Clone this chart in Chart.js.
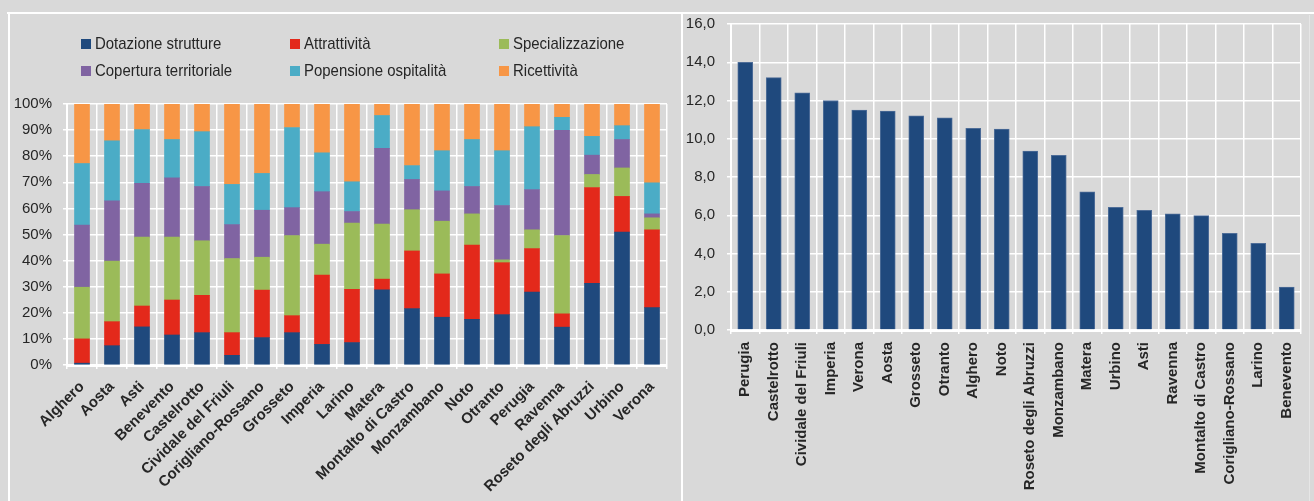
<!DOCTYPE html>
<html>
<head>
<meta charset="utf-8">
<script src="https://cdn.jsdelivr.net/npm/chart.js@4.4.1/dist/chart.umd.min.js"></script>
<style>
  html, body { margin: 0; padding: 0; }
  body { width: 1314px; height: 501px; background: #d9d9d9; position: relative; overflow: hidden;
         font-family: "Liberation Sans", Arial, sans-serif; }
  .rule { position: absolute; background: #ffffff; }
  canvas { position: absolute; top: 0; }
  #legend { position: absolute; left: 0; top: 0; }
  .item { position: absolute; font-size: 17px; color: #262626; white-space: nowrap; line-height: 20px; }
  .box { position: absolute; width: 10px; height: 10px; left: 0; top: 5px; }
  .item span { position: absolute; left: 14px; top: 0; transform: scaleX(0.88); transform-origin: 0 50%; }
</style>
</head>
<body>
<div class="rule" style="left:7px; top:12px; width:1307px; height:2px;"></div>
<div class="rule" style="left:8px; top:13px; width:2px; height:488px;"></div>
<div class="rule" style="left:681px; top:13px; width:2px; height:488px;"></div>
<div class="rule" style="left:1309px; top:15px; width:1px; height:486px; background:#e6e6e6;"></div>

<canvas id="mix" width="676" height="501" style="left:0; width:676px; height:501px;"></canvas>
<canvas id="rank" width="630" height="501" style="left:684px; width:630px; height:501px;"></canvas>
<div id="legend"></div>

<script>
// Composition of the index by municipality (percent shares)
const cities = ["Alghero", "Aosta", "Asti", "Benevento", "Castelrotto", "Cividale del Friuli",
  "Corigliano-Rossano", "Grosseto", "Imperia", "Larino", "Matera", "Montalto di Castro",
  "Monzambano", "Noto", "Otranto", "Perugia", "Ravenna", "Roseto degli Abruzzi", "Urbino", "Verona"];

const dotazioneStrutture    = [0.7, 7.4, 14.6, 11.5, 12.4, 3.7, 10.5, 12.4, 7.9, 8.6, 28.8, 21.6, 18.3, 17.5, 19.3, 27.9, 14.5, 31.3, 50.9, 22.0];
const attrattivita          = [9.3, 9.2, 8.0, 13.4, 14.3, 8.7, 18.2, 6.5, 26.6, 20.4, 4.1, 22.1, 16.6, 28.4, 19.9, 16.7, 5.1, 36.7, 13.7, 29.8];
const specializzazione      = [19.8, 23.2, 26.4, 24.1, 20.9, 28.4, 12.6, 30.7, 11.8, 25.4, 21.1, 15.8, 20.2, 12.0, 1.1, 7.2, 30.0, 5.0, 10.9, 4.6];
const coperturaTerritoriale = [23.8, 23.1, 20.6, 22.7, 20.8, 13.0, 18.0, 10.7, 20.1, 4.4, 29.0, 11.6, 11.6, 10.5, 20.8, 15.4, 40.3, 7.4, 10.9, 1.5];
const propensioneOspitalita = [23.6, 23.0, 20.6, 14.7, 21.0, 15.4, 14.1, 30.7, 14.9, 11.4, 12.6, 5.3, 15.4, 18.0, 21.0, 24.1, 5.0, 7.2, 5.3, 11.9];
const ricettivita           = [22.8, 14.1, 9.8, 13.6, 10.6, 30.8, 26.6, 9.0, 18.7, 29.8, 4.4, 23.6, 17.9, 13.6, 17.9, 8.7, 5.1, 12.4, 8.3, 30.2];

const seriesNames = ["Dotazione strutture", "Attrattività", "Specializzazione",
  "Copertura territoriale", "Popensione ospitalità", "Ricettività"];
const seriesColors = ["#1f497d", "#e3291b", "#9bbb59", "#8064a2", "#4bacc6", "#f79646"];

// Overall index, ranked
const rankedCities = ["Perugia", "Castelrotto", "Cividale del Friuli", "Imperia", "Verona", "Aosta",
  "Grosseto", "Otranto", "Alghero", "Noto", "Roseto degli Abruzzi", "Monzambano", "Matera", "Urbino",
  "Asti", "Ravenna", "Montalto di Castro", "Corigliano-Rossano", "Larino", "Benevento"];
const rankedValues = [14.0, 13.2, 12.4, 12.0, 11.5, 11.45, 11.2, 11.1, 10.55, 10.5, 9.35, 9.13, 7.23,
  6.41, 6.26, 6.07, 5.98, 5.05, 4.53, 2.25];

const FONT = "'Liberation Sans', Arial, sans-serif";
const TEXT = "#262626";
Chart.defaults.font.family = FONT;
Chart.defaults.color = TEXT;
Chart.defaults.animation = false;

const mixSeries = [dotazioneStrutture, attrattivita, specializzazione,
  coperturaTerritoriale, propensioneOspitalita, ricettivita];

const mixChart = new Chart(document.getElementById("mix"), {
  type: "bar",
  data: {
    labels: cities,
    datasets: mixSeries.map((vals, i) => ({
      label: seriesNames[i],
      data: vals,
      backgroundColor: seriesColors[i],
      borderWidth: 0,
      barThickness: 15
    }))
  },
  options: {
    responsive: false,
    layout: { padding: { top: 104, right: 9, left: 0, bottom: 0 } },
    plugins: { legend: { display: false }, tooltip: { enabled: false } },
    scales: {
      x: {
        stacked: true,
        afterFit: s => { s.height = 136; },
        grid: { offset: true, color: "#ffffff", lineWidth: 1.5, tickLength: 4, tickColor: "#ffffff" },
        border: { color: "#ffffff", width: 3 },
        ticks: { autoSkip: false, minRotation: 45, maxRotation: 45, padding: 9,
                 font: { size: 15, weight: "bold" }, color: TEXT }
      },
      y: {
        stacked: true, min: 0, max: 100,
        afterFit: s => { s.width = 67; },
        grid: { color: "#ffffff", lineWidth: 1.5, tickLength: 4, tickColor: "#ffffff" },
        border: { color: "#ffffff", width: 2 },
        ticks: { stepSize: 10, padding: 11, font: { size: 15 }, color: TEXT,
                 callback: v => v + "%" }
      }
    }
  }
});

// Legend laid out in three columns, two rows
const legendCols = [81, 290, 499];
const legendRows = [34, 61];
const legendEl = document.getElementById("legend");
mixChart.data.datasets.forEach((ds, i) => {
  const item = document.createElement("div");
  item.className = "item";
  item.style.left = legendCols[i % 3] + "px";
  item.style.top = legendRows[Math.floor(i / 3)] + "px";
  const box = document.createElement("div");
  box.className = "box";
  box.style.background = ds.backgroundColor;
  const txt = document.createElement("span");
  txt.textContent = ds.label;
  item.appendChild(box);
  item.appendChild(txt);
  legendEl.appendChild(item);
});

new Chart(document.getElementById("rank"), {
  type: "bar",
  data: {
    labels: rankedCities,
    datasets: [{
      data: rankedValues,
      backgroundColor: "#1f497d",
      borderColor: "#4e6d98",
      borderWidth: 1,
      barThickness: 15
    }]
  },
  options: {
    responsive: false,
    layout: { padding: { top: 24, right: 13, left: 0, bottom: 0 } },
    plugins: { legend: { display: false }, tooltip: { enabled: false } },
    scales: {
      x: {
        afterFit: s => { s.height = 171; },
        grid: { offset: true, color: "#ffffff", lineWidth: 1.5, tickLength: 4, tickColor: "#ffffff" },
        border: { color: "#ffffff", width: 3 },
        ticks: { autoSkip: false, minRotation: 90, maxRotation: 90, padding: 8,
                 font: { size: 15, weight: "bold" }, color: TEXT }
      },
      y: {
        min: 0, max: 16,
        afterFit: s => { s.width = 47; },
        grid: { color: "#ffffff", lineWidth: 1.5, tickLength: 4, tickColor: "#ffffff" },
        border: { color: "#ffffff", width: 2 },
        ticks: { stepSize: 2, padding: 12, font: { size: 15 }, color: TEXT,
                 callback: v => v.toFixed(1).replace(".", ",") }
      }
    }
  }
});
</script>
</body>
</html>
